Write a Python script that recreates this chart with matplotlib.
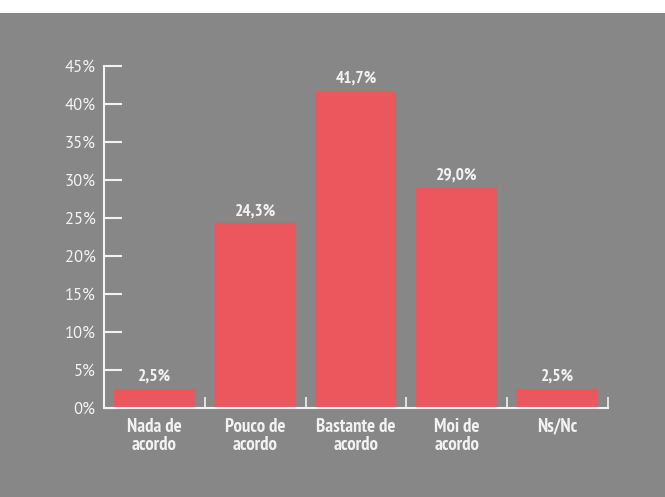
import matplotlib
matplotlib.use("Agg")
import matplotlib.pyplot as plt
from matplotlib.patches import Rectangle

# ---- DATA ----
categories = ["Nada de\nacordo", "Pouco de\nacordo", "Bastante de\nacordo", "Moi de\nacordo", "Ns/Nc"]
values = [2.5, 24.3, 41.7, 29.0, 2.5]
yticks = [0, 5, 10, 15, 20, 25, 30, 35, 40, 45]

bg = "#878787"
bar_color = "#EB575D"
fg = "#F2F2F2"
label_font = ["PT Sans Narrow", "DejaVu Sans"]
tick_font = ["PT Sans", "DejaVu Sans"]

fig = plt.figure(figsize=(6.65, 4.97), dpi=100, facecolor=bg)
# thin white strip on top
fig.patches.append(Rectangle((0, 1 - 13 / 497), 1, 13 / 497, transform=fig.transFigure,
                             facecolor="white", edgecolor="none", zorder=-1))

ax = fig.add_axes([104 / 665, 1 - 408 / 497, 504 / 665, 342 / 497])
ax.set_facecolor(bg)

x = list(range(len(categories)))
ax.bar(x, values, width=0.8, color=bar_color, zorder=2)

for xi, v in zip(x, values):
    ax.text(xi, v + 0.55, f"{v:.1f}%".replace(".", ","), ha="center", va="bottom",
            color=fg, fontsize=12.5, fontweight="bold", family=label_font)

ax.set_xlim(-0.5, len(categories) - 0.5)
ax.set_ylim(0, 45)

for s in ["top", "right"]:
    ax.spines[s].set_visible(False)
for s in ["left", "bottom"]:
    ax.spines[s].set_color(fg)
    ax.spines[s].set_linewidth(1.5)

ax.set_yticks(yticks)
ax.set_yticklabels([f"{t}%" for t in yticks], family=tick_font, fontsize=12, color=fg)
ax.tick_params(axis="y", direction="in", length=13, width=1.5, color=fg, pad=6)

# category labels centered, boundary ticks pointing up
ax.set_xticks(x)
ax.set_xticklabels(categories, family=label_font, fontsize=13.5, fontweight="bold",
                   color=fg, linespacing=1.05)
ax.tick_params(axis="x", length=0, pad=7)
ax.set_xticks([i - 0.5 for i in range(len(categories) + 1)], minor=True)
ax.tick_params(axis="x", which="minor", direction="in", length=8, width=1.2, color=fg)

fig.savefig("out.png", dpi=100, facecolor=fig.get_facecolor())
